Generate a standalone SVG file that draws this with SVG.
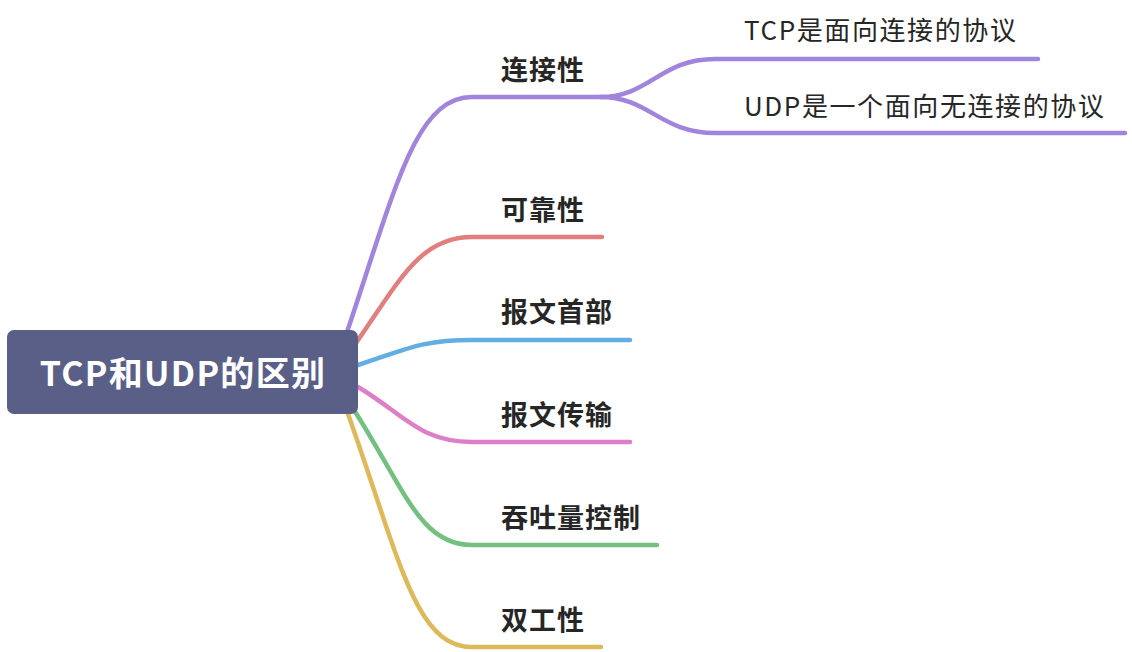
<svg xmlns="http://www.w3.org/2000/svg" width="1132" height="652" viewBox="0 0 1132 652">
<style>
.ln{fill:none;stroke-width:4.5;stroke-linecap:round;stroke-linejoin:round}
.lb{font-family:"Noto Sans CJK SC","Noto Sans",sans-serif;font-size:27px;font-weight:bold;letter-spacing:1px;fill:#262626}
.sl{font-family:"Noto Sans CJK SC","Noto Sans",sans-serif;font-size:26px;letter-spacing:1.6px;fill:#262626}
.rt{font-family:"Noto Sans CJK SC","Noto Sans",sans-serif;font-size:34px;font-weight:bold;letter-spacing:1.3px;fill:#ffffff}
</style>
<rect width="1132" height="652" fill="#ffffff"/>
<g id="connectors">
<path class="ln" stroke="#a184dc" d="M347 332 C395 190,415 97,472 97 L600 97"/>
<path class="ln" stroke="#a184dc" d="M600 97 C650 97,660 59,715 59 L1038 59"/>
<path class="ln" stroke="#a184dc" d="M600 97 C650 97,660 133,715 133 L1125 133"/>
<path class="ln" stroke="#e07f7e" d="M356 343 C400 280,420 237,472 237 L602 237"/>
<path class="ln" stroke="#62aee0" d="M358 365 C405 350,420 340,472 340 L630 340"/>
<path class="ln" stroke="#dc7fc8" d="M358 387 C405 415,420 442,472 442 L630 442"/>
<path class="ln" stroke="#73c07f" d="M354 410 C405 490,420 545,472 545 L657 545"/>
<path class="ln" stroke="#dcb95a" d="M348 414 C400 560,415 647,472 647 L601 647"/>
</g>
<g id="root">
<rect x="7" y="330" width="351" height="84" rx="7" fill="#5a5f87"/>
<text class="rt" x="183" y="386" text-anchor="middle">TCP和UDP的区别</text>
</g>
<g id="n1"><text class="lb" x="501" y="80">连接性</text></g>
<g id="n1a"><text class="sl" x="744" y="40">TCP是面向连接的协议</text></g>
<g id="n1b"><text class="sl" x="744" y="116">UDP是一个面向无连接的协议</text></g>
<g id="n2"><text class="lb" x="501" y="220">可靠性</text></g>
<g id="n3"><text class="lb" x="501" y="322">报文首部</text></g>
<g id="n4"><text class="lb" x="501" y="425">报文传输</text></g>
<g id="n5"><text class="lb" x="501" y="528">吞吐量控制</text></g>
<g id="n6"><text class="lb" x="501" y="630">双工性</text></g>
</svg>
